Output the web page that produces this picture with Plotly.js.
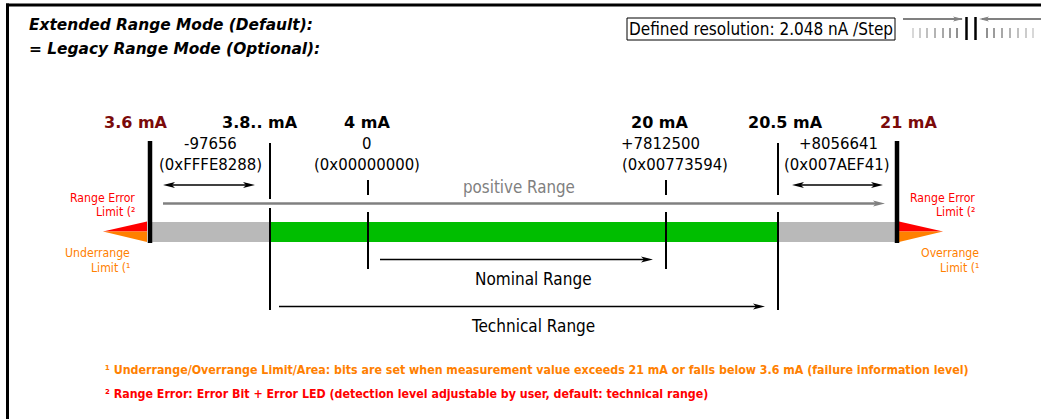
<!DOCTYPE html>
<html><head><meta charset="utf-8">
<script src="https://cdn.plot.ly/plotly-3.0.1.min.js"></script>
<style>html,body{margin:0;padding:0;background:#fff;overflow:hidden}#chart{width:1041px;height:419px}</style>
</head><body><div id="chart"></div>
<script>
// ---- data ----
const titleLines = ['Extended Range Mode (Default):', '= Legacy Range Mode (Optional):'];
const resolutionText = 'Defined resolution: 2.048 nA /Step';
const currentLabels = ['3.6 mA', '3.8.. mA', '4 mA', '20 mA', '20.5 mA', '21 mA'];
const isLimit = [true, false, false, false, false, true];
const decimalValues = ['-97656', '0', '+7812500', '+8056641'];
const hexValues = ['(0xFFFE8288)', '(0x00000000)', '(0x00773594)', '(0x007AEF41)'];
const rangeNames = ['positive Range', 'Nominal Range', 'Technical Range'];
const errorLabel = ['Range Error', 'Limit (²'];
const underLabel = ['Underrange', 'Limit (¹'];
const overLabel = ['Overrange', 'Limit (¹'];
const footnotes = [
  '¹ Underrange/Overrange Limit/Area: bits are set when measurement value exceeds 21 mA or falls below 3.6 mA (failure information level)',
  '² Range Error: Error Bit + Error LED (detection level adjustable by user, default: technical range)'
];

// ---- schematic layout (pixel-like coordinates of the drawing) ----
const markX = [150, 270, 368, 666, 778, 897];
const headX = [135.5, 259.5, 366.7, 660, 785, 908.5];
const decX = [210, 366.7, 660.5, 838];
const hexX = [210, 366.5, 675, 836.5];
const barTop = 222, barBot = 242;

const RED = '#FF0000', ORANGE = '#FF8000', DARKRED = '#7A0A0A';
const F = 'DejaVu Sans Condensed, DejaVu Sans, sans-serif';
const FB = 'DejaVu Sans, sans-serif';

const shapes = [];
const ann = [];
function line(x0, y0, x1, y1, color, width) {
  shapes.push({type: 'line', xref: 'x', yref: 'y', x0, y0, x1, y1, line: {color, width}});
}
function rect(x0, y0, x1, y1, fill, lc, lw) {
  shapes.push({type: 'rect', xref: 'x', yref: 'y', x0, y0, x1, y1, fillcolor: fill,
    line: {color: lc || 'rgba(0,0,0,0)', width: lw || 0}});
}
function poly(pts, fill) {
  const d = 'M' + pts.map(p => p[0] + ',' + p[1]).join(' L') + ' Z';
  shapes.push({type: 'path', xref: 'x', yref: 'y', path: d, fillcolor: fill, line: {width: 0, color: fill}});
}
function head(x, y, dir, color, len, half) {
  len = len || 11; half = half || 3;
  poly([[x, y], [x - dir * len, y - half], [x - dir * len * 0.75, y], [x - dir * len, y + half]], color);
}
function text(t, x, y, opts) {
  ann.push(Object.assign({text: t, x, y, xref: 'x', yref: 'y', showarrow: false,
    xanchor: 'center', yanchor: 'middle'}, opts));
}

// frame
line(7.5, 3.5, 7.5, 419, '#000', 3);
line(6, 5, 1041, 5, '#000', 3);

// titles
titleLines.forEach((t, i) => text('<b><i>' + t + '</i></b>', 27, 25 + i * 24,
  {xanchor: 'left', font: {family: FB, size: 15.4, color: '#000'}}));

// resolution box
rect(627, 18, 895, 40, 'rgba(0,0,0,0)', '#000', 1);
text(resolutionText, 761, 29, {font: {family: F, size: 17, color: '#000'}});

// top-right icon
line(903, 19, 962, 19, '#808080', 2);
head(963, 19, 1, '#808080', 10, 2.5);
line(982, 19, 1041, 19, '#808080', 2);
head(979, 19, -1, '#808080', 10, 2.5);
line(966.5, 17, 966.5, 40, '#000', 2.5);
line(975.5, 17, 975.5, 40, '#000', 2.5);
const tickShades = ['#d8d8d8', '#cccccc', '#c0c0c0', '#b4b4b4', '#a8a8a8', '#9c9c9c', '#909090'];
[913, 920, 927, 935, 943, 950, 957].forEach((x, i) => line(x, 28, x, 38, tickShades[i], 2));
[987, 994, 1002, 1010, 1018, 1026, 1033].forEach((x, i) => line(x, 28, x, 38, tickShades[6 - i], 2));

// bar
rect(markX[0], barTop, markX[5], barBot, '#B9B9B9');
rect(markX[1], barTop, markX[4], barBot, '#00BE00');

// triangles
poly([[147, 221.5], [103, 231.5], [147, 231.5]], RED);
poly([[147, 231.5], [103, 231.5], [147, 242]], ORANGE);
poly([[899, 221.5], [943, 231.5], [899, 231.5]], RED);
poly([[899, 231.5], [943, 231.5], [899, 242]], ORANGE);

// marker lines
line(markX[0], 141, markX[0], 243, '#000', 4.5);
line(markX[5], 141, markX[5], 243, '#000', 4.5);
line(markX[1], 143, markX[1], 199, '#000', 2);
line(markX[1], 208, markX[1], 310, '#000', 2);
line(markX[2], 180, markX[2], 195, '#000', 2);
line(markX[2], 212, markX[2], 269, '#000', 2);
line(markX[3], 180, markX[3], 195, '#000', 2);
line(markX[3], 212, markX[3], 269, '#000', 2);
line(markX[4], 143, markX[4], 195, '#000', 2);
line(markX[4], 212, markX[4], 310, '#000', 2);

// positive range arrow
line(163, 203.5, 876, 203.5, '#808080', 2.7);
head(885, 203.5, 1, '#808080', 12, 3);
text(rangeNames[0], 519, 187, {font: {family: F, size: 16.8, color: '#808080'}});

// double arrows
line(168, 185, 250, 185, '#000', 1.6);
head(163, 185, -1, '#000', 12, 3);
head(255, 185, 1, '#000', 12, 3);
line(797, 185, 878, 185, '#000', 1.6);
head(792, 185, -1, '#000', 12, 3);
head(883, 185, 1, '#000', 12, 3);

// nominal / technical
line(380, 259.5, 646, 259.5, '#000', 1.6);
head(653, 259.5, 1, '#000', 12, 3);
text(rangeNames[1], 533, 279, {font: {family: F, size: 17, color: '#000'}});
line(279, 306.5, 758, 306.5, '#000', 1.6);
head(765, 306.5, 1, '#000', 12, 3);
text(rangeNames[2], 533, 326, {font: {family: F, size: 17, color: '#000'}});

// header labels
currentLabels.forEach((t, i) => text('<b>' + t + '</b>', headX[i], 122,
  {font: {family: FB, size: 16, color: isLimit[i] ? DARKRED : '#000'}}));
decimalValues.forEach((t, i) => text(t, decX[i], 143, {font: {family: F, size: 16.6, color: '#000'}}));
hexValues.forEach((t, i) => text(t, hexX[i], 164, {font: {family: F, size: 16.6, color: '#000'}}));

// side labels
const sideFont = c => ({family: F, size: 12.2, color: c});
text(errorLabel[0], 137, 197.5, {xanchor: 'right', font: sideFont(RED)});
text(errorLabel[1], 137, 212, {xanchor: 'right', font: sideFont(RED)});
text(underLabel[0], 132, 253, {xanchor: 'right', font: sideFont(ORANGE)});
text(underLabel[1], 132, 267.5, {xanchor: 'right', font: sideFont(ORANGE)});
text(errorLabel[0], 977, 197.5, {xanchor: 'right', font: sideFont(RED)});
text(errorLabel[1], 977, 212, {xanchor: 'right', font: sideFont(RED)});
text(overLabel[0], 981, 253, {xanchor: 'right', font: sideFont(ORANGE)});
text(overLabel[1], 981, 267.5, {xanchor: 'right', font: sideFont(ORANGE)});

// footnotes
text('<b>' + footnotes[0] + '</b>', 103, 370, {xanchor: 'left', font: {family: F, size: 12.3, color: ORANGE}});
text('<b>' + footnotes[1] + '</b>', 103, 394, {xanchor: 'left', font: {family: F, size: 12.3, color: RED}});

const layout = {
  width: 1041, height: 419,
  margin: {l: 0, r: 0, t: 0, b: 0, pad: 0},
  paper_bgcolor: '#fff', plot_bgcolor: '#fff',
  xaxis: {range: [0, 1041], visible: false, fixedrange: true},
  yaxis: {range: [419, 0], visible: false, fixedrange: true},
  showlegend: false,
  shapes, annotations: ann
};
Plotly.newPlot('chart', [{x: [], y: [], type: 'scatter', mode: 'markers', hoverinfo: 'skip'}], layout,
  {displayModeBar: false, staticPlot: true});
</script></body></html>
